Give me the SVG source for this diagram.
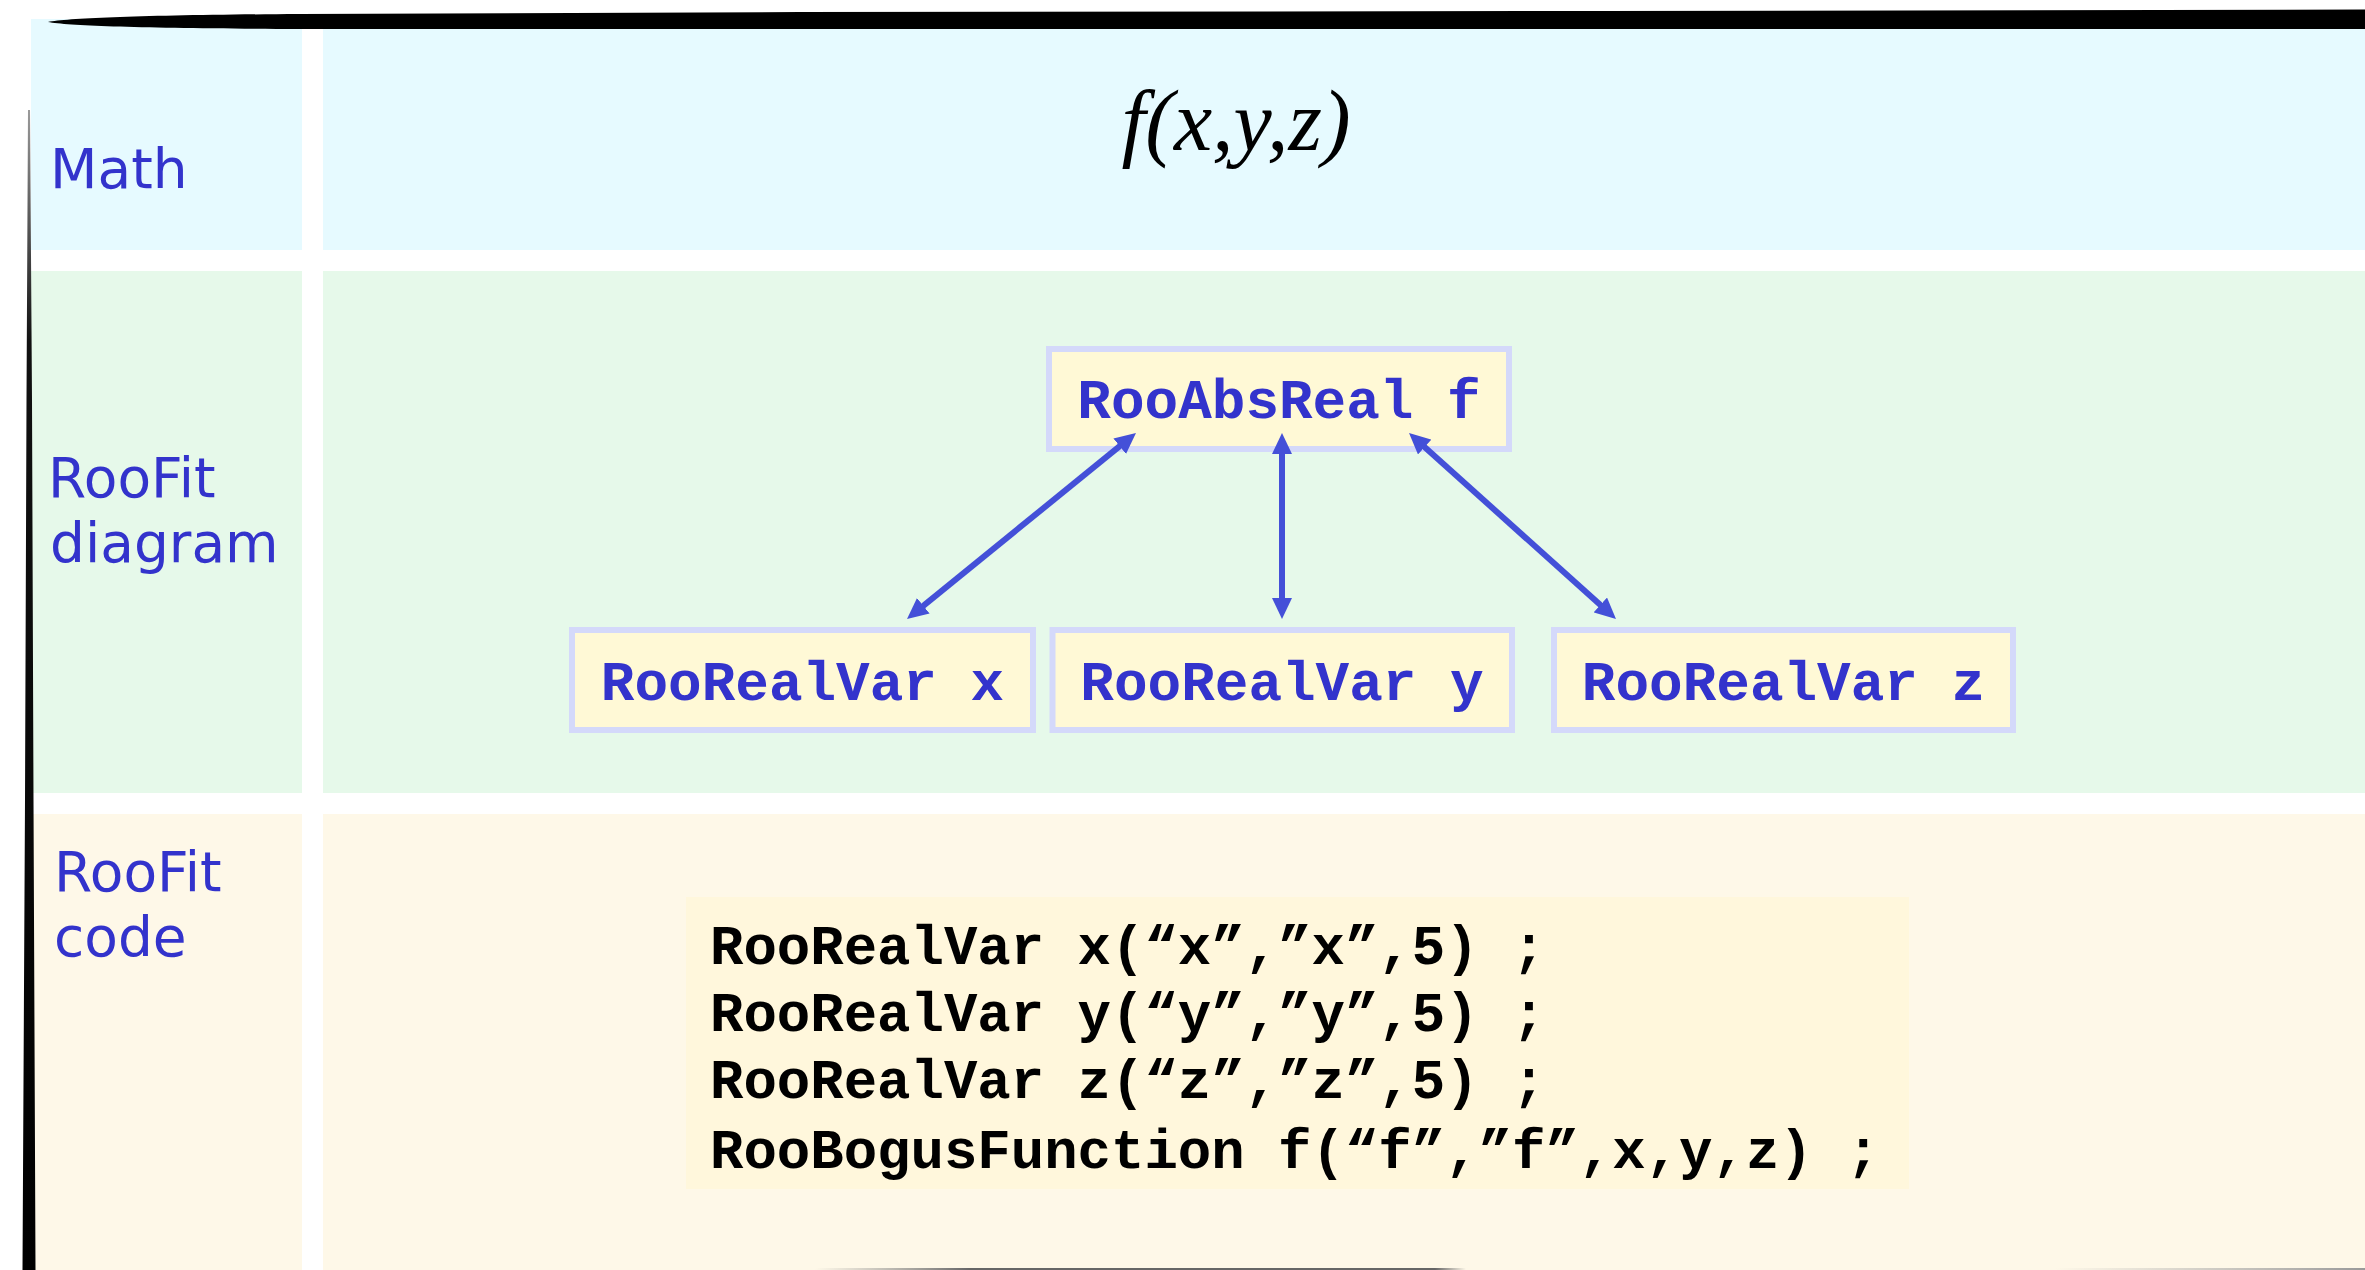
<svg xmlns="http://www.w3.org/2000/svg" width="2365" height="1270" viewBox="0 0 2365 1270">
  <defs>
    <style>
      .lbl { font-family: "DejaVu Sans", Verdana, sans-serif; font-size: 55px; fill: #3333cc; }
      .node rect { fill: #fff9d6; stroke: #d4d9fa; stroke-width: 6; }
      .node text { font-family: "Courier New", "Liberation Mono", monospace; font-weight: bold; font-size: 56px; fill: #3333cc; text-anchor: middle; }
      .code { font-family: "Courier New", "Liberation Mono", monospace; font-weight: bold; font-size: 55.7px; fill: #000; }
      .edge { stroke: #4450d8; stroke-width: 6; fill: none; marker-start: url(#ah); marker-end: url(#ah); }
    </style>
    <marker id="ah" markerUnits="userSpaceOnUse" viewBox="0 0 21 20" markerWidth="21" markerHeight="20" refX="8" refY="10" orient="auto-start-reverse">
      <path d="M0,0 L21,10 L0,20 Z" fill="#4450d8"/>
    </marker>
    <linearGradient id="edgeShade" x1="0" y1="110" x2="0" y2="1270" gradientUnits="userSpaceOnUse">
      <stop offset="0" stop-color="#9a9a9a"/>
      <stop offset="0.2" stop-color="#111"/>
      <stop offset="1" stop-color="#000"/>
    </linearGradient>
    <linearGradient id="baseShade" x1="815" y1="0" x2="2365" y2="0" gradientUnits="userSpaceOnUse">
      <stop offset="0" stop-color="#888" stop-opacity="0"/>
      <stop offset="0.1" stop-color="#666"/>
      <stop offset="0.4" stop-color="#666"/>
      <stop offset="0.42" stop-color="#666" stop-opacity="0"/>
      <stop offset="0.8" stop-color="#aaa" stop-opacity="0"/>
      <stop offset="1" stop-color="#999"/>
    </linearGradient>
  </defs>

  <rect width="2365" height="1270" fill="#ffffff"/>

  <!-- row bands: label column and content column -->
  <g id="bands">
    <rect x="31" y="19" width="271" height="231" fill="#e6faff"/>
    <rect x="323" y="19" width="2042" height="231" fill="#e6faff"/>
    <rect x="31" y="271" width="271" height="522" fill="#e6f9ea"/>
    <rect x="323" y="271" width="2042" height="522" fill="#e6f9ea"/>
    <rect x="31" y="814" width="271" height="456" fill="#fef8e8"/>
    <rect x="323" y="814" width="2042" height="456" fill="#fef8e8"/>
  </g>

  <!-- page frame strokes -->
  <path d="M48,22 C70,18 150,15 300,14 L800,12 L1600,11 L2365,9.5 L2365,29 L300,29 C150,28.5 70,26 48,22 Z" fill="#000"/>
  <path d="M28,110 L30,110 L32,400 L33.5,800 L35.5,1270 L22.5,1270 L25,800 L26.5,400 Z" fill="url(#edgeShade)"/>
  <line x1="815" y1="1269" x2="2365" y2="1269" stroke="url(#baseShade)" stroke-width="2"/>

  <!-- row labels -->
  <g id="row-labels">
    <text class="lbl" x="50" y="188">Math</text>
    <text class="lbl" x="48" y="497">RooFit</text>
    <text class="lbl" x="50" y="562">diagram</text>
    <text class="lbl" x="54" y="891">RooFit</text>
    <text class="lbl" x="54" y="956">code</text>
  </g>

  <!-- formula -->
  <g id="formula">
    <text x="1236" y="150" font-family="'Liberation Serif', 'Times New Roman', serif" font-style="italic" font-size="86" text-anchor="middle" fill="#000">f(x,y,z)</text>
  </g>

  <!-- nodes -->
  <g id="node-f" class="node">
    <rect x="1049" y="349" width="460" height="100"/>
    <text x="1279" y="418">RooAbsReal f</text>
  </g>
  <g id="node-x" class="node">
    <rect x="572" y="630" width="461" height="100"/>
    <text x="802.5" y="700">RooRealVar x</text>
  </g>
  <g id="node-y" class="node">
    <rect x="1052.5" y="630" width="459.5" height="100"/>
    <text x="1282" y="700">RooRealVar y</text>
  </g>
  <g id="node-z" class="node">
    <rect x="1554" y="630" width="459" height="100"/>
    <text x="1783.5" y="700">RooRealVar z</text>
  </g>

  <!-- connectors (drawn over the boxes so the upper heads sit inside f) -->
  <g id="connectors">
    <line class="edge" x1="1125.9" y1="441.2" x2="917.1" y2="610.8"/>
    <line class="edge" x1="1282" y1="446" x2="1282" y2="606"/>
    <line class="edge" x1="1418.7" y1="441.7" x2="1606.3" y2="610.3"/>
  </g>

  <!-- code listing -->
  <g id="code-block">
    <rect x="686" y="897" width="1223" height="292" fill="#fff7dc"/>
    <text class="code" x="710" y="964" xml:space="preserve">RooRealVar x(“x”,”x”,5) ;</text>
    <text class="code" x="710" y="1031" xml:space="preserve">RooRealVar y(“y”,”y”,5) ;</text>
    <text class="code" x="710" y="1098" xml:space="preserve">RooRealVar z(“z”,”z”,5) ;</text>
    <text class="code" x="710" y="1168" xml:space="preserve">RooBogusFunction f(“f”,”f”,x,y,z) ;</text>
  </g>
</svg>
